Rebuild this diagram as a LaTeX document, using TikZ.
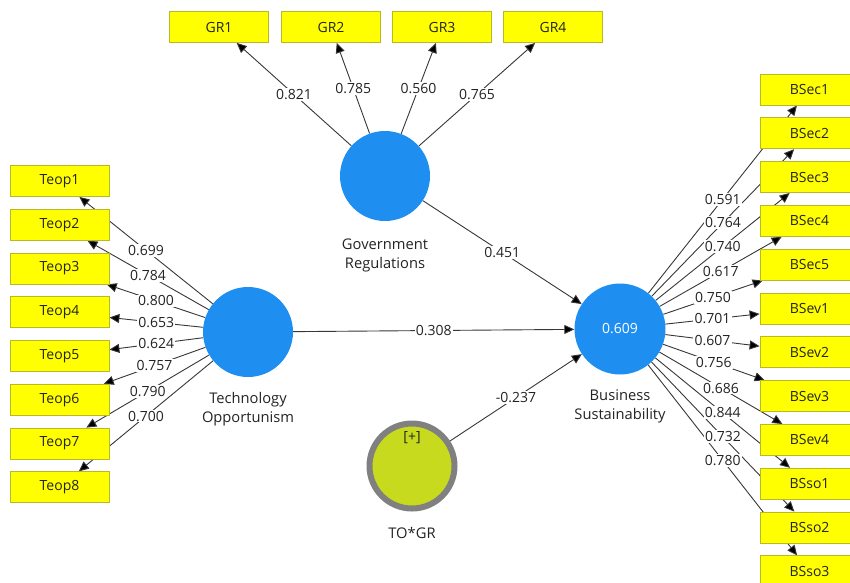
\documentclass[tikz,border=0pt]{standalone}
\usepackage{fontspec}
\setmainfont{Open Sans}
\usetikzlibrary{arrows.meta,backgrounds}
\definecolor{boxfill}{RGB}{255,255,0}
\definecolor{boxedge}{RGB}{185,185,40}
\definecolor{lvblue}{RGB}{30,143,240}
\definecolor{limec}{RGB}{200,218,30}
\definecolor{ringc}{RGB}{128,128,128}
\definecolor{linkc}{RGB}{55,55,55}
\definecolor{txtc}{RGB}{35,35,35}
\begin{document}
\begin{tikzpicture}[x=1pt,y=-1pt,
  ind/.style={draw=boxedge, line width=0.8pt, fill=boxfill, minimum width=99pt, minimum height=31pt, inner sep=0pt, text=txtc, font=\fontsize{14}{16}\selectfont},
  lv/.style={circle, fill=lvblue, minimum size=90pt, inner sep=0pt},
  captxt/.style={align=center, text=txtc, font=\fontsize{14.7}{19}\selectfont},
  lab/.style={fill=white, inner sep=1.2pt, text=txtc, font=\fontsize{14}{16}\selectfont},
  link/.style={draw=linkc, line width=0.9pt, -{Triangle[length=10pt,width=9pt,fill=black]}}
]
\useasboundingbox (0,0) rectangle (850,582);
\clip (0,0) rectangle (850,582);

% latent variables
\node[lv] (GR) at (385,176) {};
\node[lv] (TO) at (248,332) {};
\node[lv, minimum size=91pt, text=white, font=\fontsize{14}{16}\selectfont] (BS) at (620,329) {0.609};
\node[circle, fill=limec, draw=ringc, line width=6pt, minimum size=85pt, inner sep=0pt] (TG) at (412,466) {};
\node[text=txtc, font=\fontsize{14}{16}\selectfont] (TGp) at (412,438) {[+]};

% captions
\node[captxt] (GRc) at (385,255) {Government\\Regulations};
\node[captxt] (TOc) at (248,409) {Technology\\Opportunism};
\node[captxt] (BSc) at (620,406) {Business\\Sustainability};
\node[captxt] (TGc) at (412,533) {TO*GR};

% indicators
\foreach \i/\x in {1/219,2/331,3/442,4/553}
  \node[ind] (GR\i) at (\x,27) {GR\i};
\foreach \i in {1,...,8}
  \node[ind] (Teop\i) at (59.5,{181+43.75*(\i-1)}) {Teop\i};
\foreach \n [count=\k from 0] in {BSec1,BSec2,BSec3,BSec4,BSec5,BSev1,BSev2,BSev3,BSev4,BSso1,BSso2,BSso3}
  \node[ind] (\n) at (809.5,{89.5+43.8*\k}) {\n};

% connectors with labels
\foreach \a/\b/\v in {
  GR/GR1/0.821, GR/GR2/0.785, GR/GR3/0.560, GR/GR4/0.765,
  TO/Teop1/0.699, TO/Teop2/0.784, TO/Teop3/0.800, TO/Teop4/0.653,
  TO/Teop5/0.624, TO/Teop6/0.757, TO/Teop7/0.790, TO/Teop8/0.700,
  BS/BSec1/0.591, BS/BSec2/0.764, BS/BSec3/0.740, BS/BSec4/0.617,
  BS/BSec5/0.750, BS/BSev1/0.701, BS/BSev2/0.607, BS/BSev3/0.756,
  BS/BSev4/0.686, BS/BSso1/0.844, BS/BSso2/0.732, BS/BSso3/0.780,
  GR/BS/0.451, TO/BS/0.308, TG/BS/-0.237}{
  \begin{pgfonlayer}{background}
    \draw[link] (\a) -- (\b);
  \end{pgfonlayer}
  \path (\a) -- node[lab]{\v} (\b);
}
\end{tikzpicture}
\end{document}
